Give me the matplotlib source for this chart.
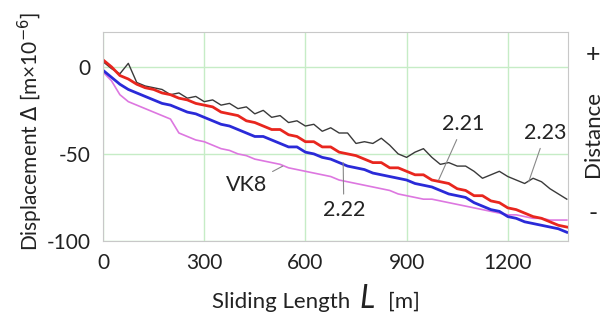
import matplotlib.pyplot as plt

plt.rcParams['font.family'] = ['Lato', 'DejaVu Sans']
plt.rcParams['axes.unicode_minus'] = False

# sliding length [m]
L = list(range(0, 1376, 25))

# displacement [m x 1e-6]
d223 = [3, -1, -4, 2, -9, -11, -12, -13, -16, -15, -18, -17, -20, -19, -22, -21,
        -24, -23, -27, -25, -29, -28, -32, -31, -34, -33, -37, -35, -38, -38, -44, -43,
        -44, -41, -45, -50, -52, -49, -47, -52, -56, -55, -57, -57, -60, -64, -62, -60,
        -63, -65, -67, -64, -66, -70, -73, -76]
d221 = [4, 0, -5, -7, -10, -12, -13, -15, -16, -18, -19, -21, -22, -23, -26, -27,
        -28, -31, -32, -34, -36, -36, -39, -40, -43, -43, -46, -46, -49, -50, -51, -53,
        -55, -55, -58, -58, -60, -62, -62, -65, -66, -67, -70, -71, -74, -74, -77, -78,
        -81, -82, -84, -86, -87, -89, -91, -92]
d222 = [-2, -6, -10, -13, -15, -17, -19, -21, -22, -24, -26, -27, -29, -31, -33, -34,
        -36, -38, -40, -40, -42, -44, -46, -46, -49, -50, -52, -53, -55, -57, -58, -59,
        -61, -62, -63, -64, -65, -67, -68, -69, -71, -73, -74, -75, -78, -80, -82, -83,
        -86, -87, -89, -90, -91, -92, -93, -95]
dvk8 = [-3, -8, -16, -20, -22, -24, -26, -28, -30, -38, -40, -42, -43, -45, -47, -48,
        -50, -51, -53, -54, -55, -56, -58, -59, -60, -61, -62, -63, -65, -66, -67, -68,
        -69, -70, -71, -73, -74, -75, -76, -76, -77, -78, -79, -80, -81, -82, -83, -84,
        -85, -85, -86, -87, -87, -88, -88, -88]

xticks = [0, 300, 600, 900, 1200]
yticks = [0, -50, -100]

fig = plt.figure(figsize=(6.06, 3.2), dpi=100)
ax = fig.add_axes([0.170, 0.247, 0.767, 0.653])

ax.plot(L, dvk8, color='#dd77e0', lw=1.2)
ax.plot(L, d223, color='#3a3a3a', lw=1.0)
ax.plot(L, d221, color='#e8261e', lw=2.0)
ax.plot(L, d222, color='#2a2ad8', lw=2.0)

ax.set_xlim(0, 1378)
ax.set_ylim(-100, 20)
ax.set_xticks(xticks)
ax.set_yticks(yticks)
ax.tick_params(length=0, labelsize=15, colors='#222222')
ax.tick_params(axis='x', pad=9)
ax.tick_params(axis='y', pad=9)
ax.grid(True, color='#c6ecc6', lw=1.0)
ax.set_axisbelow(True)
for s in ax.spines.values():
    s.set_color('#c8c8c8')

lead = dict(arrowstyle='-', color='#888888', lw=0.8, shrinkA=2, shrinkB=0)
kw = dict(fontsize=15.5, ha='center', va='center', color='#222222', arrowprops=lead)
ax.annotate('2.21', xy=(995, -65), xytext=(1069, -33), **kw)
ax.annotate('2.23', xy=(1262, -66), xytext=(1312, -38), **kw)
ax.annotate('2.22', xy=(712, -55), xytext=(714, -82), **kw)
ax.annotate('VK8', xy=(533, -57), xytext=(426, -68), **kw)

# axis titles
fig.text(0.350, 0.038, 'Sliding Length', fontsize=16, va='baseline', color='#222222')
fig.text(0.593, 0.038, 'L', fontsize=23, style='italic', va='baseline', color='#222222')
fig.text(0.640, 0.038, '[m]', fontsize=16, va='baseline', color='#222222')
fig.text(0.050, 0.59, r'Displacement $\Delta$ [m×10$^{-6}$]', fontsize=15,
         rotation=90, ha='center', va='center', color='#222222')

fig.text(0.978, 0.58, 'Distance', fontsize=16, rotation=90, ha='center', va='center',
         color='#222222')
fig.text(0.978, 0.83, '+', fontsize=18, ha='center', va='center', color='#222222')
fig.text(0.978, 0.334, '-', fontsize=18, ha='center', va='center', color='#222222')

fig.savefig('out.png', dpi=100)
